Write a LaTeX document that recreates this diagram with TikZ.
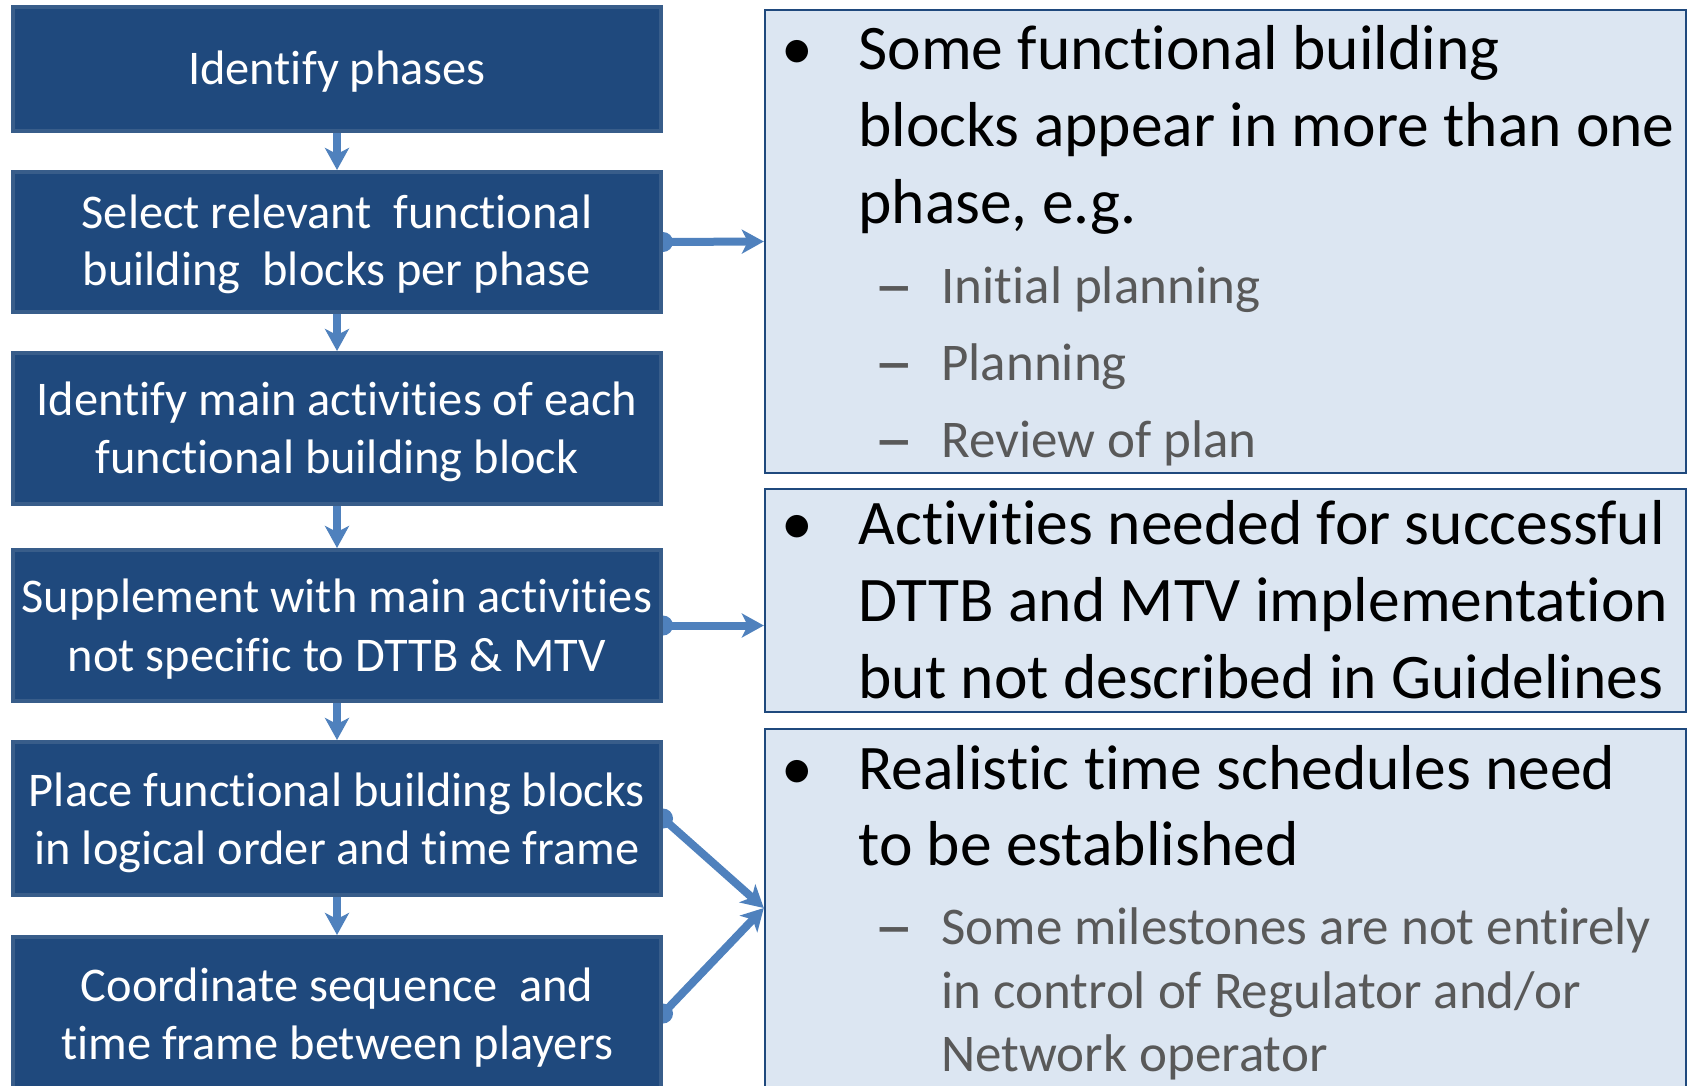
\documentclass[tikz,border=0pt]{standalone}
\usepackage{fontspec}
\setmainfont{Carlito}[Ligatures=NoCommon]
\usetikzlibrary{arrows.meta,backgrounds}
\definecolor{boxfill}{HTML}{1F497D}
\definecolor{boxline}{HTML}{385D8A}
\definecolor{notefill}{HTML}{DCE6F2}
\definecolor{noteline}{HTML}{1F497D}
\definecolor{arrowc}{HTML}{4F81BD}
\definecolor{subgray}{HTML}{595959}
\newcommand{\subdashmark}{\raisebox{-3pt}{\scalebox{1.5}[1.4]{–}}}
\begin{document}
\begin{tikzpicture}[x=0.5pt,y=-0.5pt,
  stepbox/.style={draw=boxline, line width=2pt, fill=boxfill, inner sep=0pt, minimum width=324pt},
  notebox/.style={draw=noteline, line width=1.2pt, fill=notefill, inner sep=0pt, minimum width=460.5pt},
  lefttxt/.style={anchor=base, text=white, inner sep=0pt, font=\fontsize{24.2}{29}\selectfont},
  bul/.style={anchor=base, inner sep=0pt, font=\fontsize{31.75}{38}\selectfont},
  maintxt/.style={anchor=base west, inner sep=0pt, font=\fontsize{31.75}{38}\selectfont},
  subdash/.style={anchor=base, inner sep=0pt, text=subgray, font=\fontsize{26.46}{32}\selectfont},
  subtxt/.style={anchor=base west, inner sep=0pt, text=subgray, font=\fontsize{26.5}{32}\selectfont},
  flow/.style={draw=arrowc, line width=4pt, -{Stealth[length=11pt, width=12pt, inset=3pt]}},
  startdot/.style={fill=arrowc}
]
\useasboundingbox (0,0) rectangle (1692,1086);
\begin{scope}
\clip (0,0) rectangle (1692,1086);

% left step boxes
\node[stepbox, minimum height=62pt]   (b1) at (337,69) {};
\node[stepbox, minimum height=70pt]   (b2) at (337,242) {};
\node[stepbox, minimum height=75.5pt] (b3) at (337,428.5) {};
\node[stepbox, minimum height=75.5pt] (b4) at (337,625.5) {};
\node[stepbox, minimum height=76.5pt] (b5) at (337,818.5) {};
\node[stepbox, minimum height=76.5pt] (b6) at (337,1013.5) {};

\node[lefttxt] (t1)  at (337,85)  {Identify phases};
\node[lefttxt] (t2a) at (337,228) {Select relevant\ \ functional};
\node[lefttxt] (t2b) at (337,285) {building\ \ blocks per phase};
\node[lefttxt] (t3a) at (337,415) {Identify main activities of each};
\node[lefttxt] (t3b) at (337,473) {functional building block};
\node[lefttxt] (t4a) at (337,612) {Supplement with main activities};
\node[lefttxt] (t4b) at (337,671) {not specific to DTTB \& MTV};
\node[lefttxt] (t5a) at (337,806) {Place functional building blocks};
\node[lefttxt] (t5b) at (337,864) {in logical order and time frame};
\node[lefttxt] (t6a) at (337,1001) {Coordinate sequence\ \ and};
\node[lefttxt] (t6b) at (337,1059) {time frame between players};

% right note boxes
\node[notebox, minimum height=231.5pt] (rA) at (1225.5,241.5) {};
\node[notebox, minimum height=111.5pt] (rB) at (1225.5,600.5) {};
\node[notebox, minimum height=179pt]   (rC) at (1225.5,908) {};

\node[bul] (bA) at (797,70) {•};
\node[maintxt] (a1) at (858,70)  {Some functional building};
\node[maintxt] (a2) at (858,147) {blocks appear in more than one};
\node[maintxt] (a3) at (858,223) {phase, e.g.};
\node[subdash] (da1) at (894,303) {\subdashmark};
\node[subtxt]  (a4) at (941,303) {Initial planning};
\node[subdash] (da2) at (894,380) {\subdashmark};
\node[subtxt]  (a5) at (941,380) {Planning};
\node[subdash] (da3) at (894,457) {\subdashmark};
\node[subtxt]  (a6) at (941,457) {Review of plan};

\node[bul] (bB) at (797,544) {•};
\node[maintxt] (m1) at (858,544) {Activities needed for successful};
\node[maintxt] (m2) at (858,621) {DTTB and MTV implementation};
\node[maintxt] (m3) at (858,698) {but not described in Guidelines};

\node[bul] (bC) at (797,789) {•};
\node[maintxt] (c1) at (858,789) {Realistic time schedules need};
\node[maintxt] (c2) at (858,865) {to be established};
\node[subdash] (dc1) at (894,944) {\subdashmark};
\node[subtxt]  (c3) at (941,944)  {Some milestones are not entirely};
\node[subtxt]  (c4) at (941,1008) {in control of Regulator and/or};
\node[subtxt]  (c5) at (941,1071) {Network operator};
\end{scope}

% connectors
\begin{pgfonlayer}{background}
\draw[flow] (b1.south) -- (b2.north);
\draw[flow] (b2.south) -- (b3.north);
\draw[flow] (b3.south) -- (b4.north);
\draw[flow] (b4.south) -- (b5.north);
\draw[flow] (b5.south) -- (b6.north);
\fill[startdot] (b2.east) circle (5pt);
\fill[startdot] (b4.east) circle (5pt);
\fill[startdot] (b5.east) circle (5pt);
\fill[startdot] (b6.east) circle (5pt);
\draw[flow] (b2.east) -- (rA.west);
\draw[flow] (b4.east) -- (b4.east -| rB.west);
\draw[flow] (b5.east) -- (rC.west);
\draw[flow] (b6.east) -- (rC.west);
\end{pgfonlayer}
\end{tikzpicture}
\end{document}
